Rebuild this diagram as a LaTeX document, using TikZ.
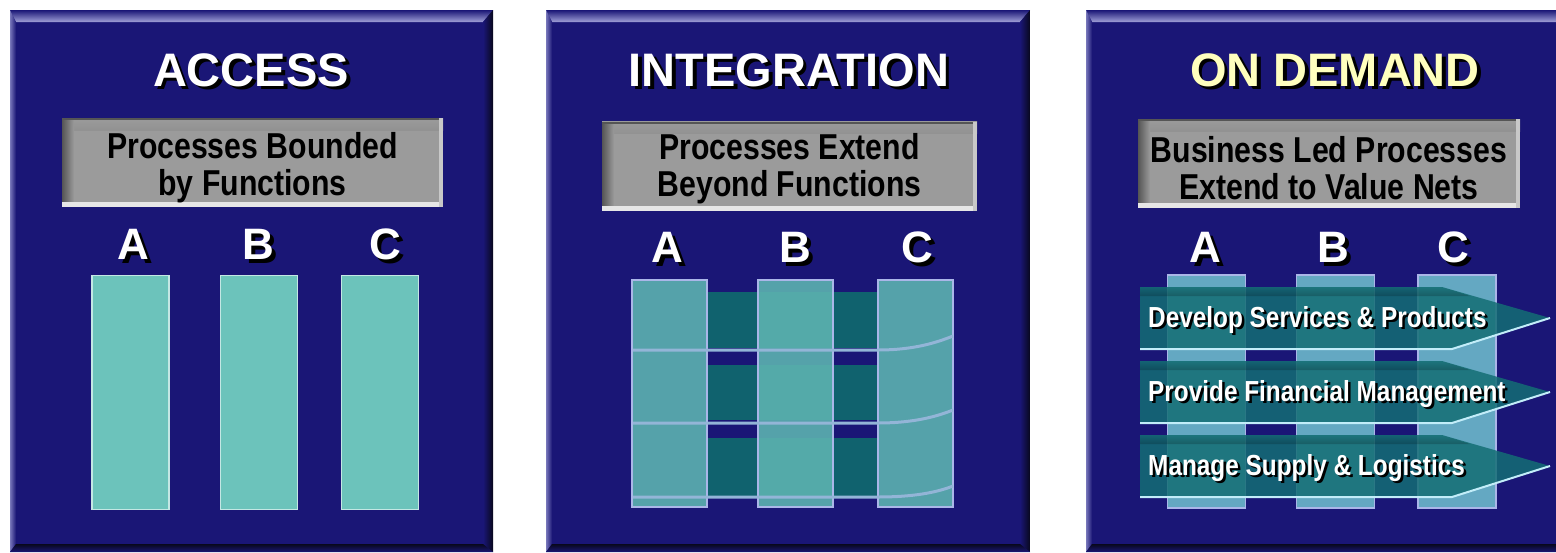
\documentclass[tikz,border=0pt]{standalone}
\usepackage{fontspec}
\setmainfont{Liberation Sans}
\newfontfamily\narrowfont[FakeStretch=0.84]{Liberation Sans}
\usetikzlibrary{positioning}

\definecolor{panelnavy}{RGB}{26,22,118}
\definecolor{bevellight}{RGB}{160,160,215}
\definecolor{beveldark}{RGB}{8,8,28}
\definecolor{boxgray}{RGB}{155,155,155}
\definecolor{barteal}{RGB}{108,195,187}
\definecolor{colteal}{RGB}{92,178,176}
\definecolor{bandteal}{RGB}{16,98,110}
\definecolor{demcolor}{RGB}{100,168,194}
\definecolor{arrowteal}{RGB}{20,110,116}
\definecolor{edgelav}{RGB}{170,182,232}
\definecolor{titleyellow}{RGB}{255,255,190}

\newcommand{\shadowed}[2][3pt]{\makebox[0pt][l]{\hspace{#1}\raisebox{-#1}{\color{black}#2}}#2}

% y runs downwards, so top/bottom colours of shadings are swapped
\tikzset{
  title/.style={font=\bfseries\fontsize{47}{50}\selectfont, text=white, inner sep=0pt, anchor=base},
  colletter/.style={font=\bfseries\fontsize{44}{46}\selectfont, text=white, inner sep=0pt, anchor=base},
  graybox/.style={fill=boxgray, inner sep=0pt, path picture={
      \shade[bottom color=black!45!boxgray, top color=boxgray] (path picture bounding box.north west) rectangle ([yshift=-12pt]path picture bounding box.north east);
      \shade[left color=black!45!boxgray, right color=boxgray] ([yshift=-2pt]path picture bounding box.north west) rectangle ([xshift=12pt,yshift=5pt]path picture bounding box.south west);
      \fill[black!45!boxgray] (path picture bounding box.north west) rectangle ([yshift=-2pt]path picture bounding box.north east);
      \fill[white!75!boxgray] (path picture bounding box.south west) rectangle ([yshift=5pt]path picture bounding box.south east);
      \fill[white!45!boxgray] (path picture bounding box.south east) rectangle ([xshift=-4pt]path picture bounding box.north east);}},
  boxtext/.style={font=\narrowfont\bfseries\fontsize{36}{37}\selectfont, align=center, inner sep=0pt},
  funcbar/.style={fill=barteal, draw=white!60!barteal, line width=1.5pt, minimum width=77pt, minimum height=234pt, inner sep=0pt},
  intcol/.style={fill=colteal, fill opacity=0.9, draw=edgelav, line width=1.5pt, minimum width=75pt, minimum height=227pt, inner sep=0pt},
  demcol/.style={fill=demcolor, draw=edgelav, line width=1.5pt, minimum width=78pt, minimum height=233pt, inner sep=0pt},
  divider/.style={draw=edgelav!70!colteal, line width=3pt},
  proctext/.style={font=\narrowfont\bfseries\fontsize{29}{30}\selectfont, text=white, inner sep=0pt, anchor=base west},
}

\begin{document}
\begin{tikzpicture}[x=1pt, y=-1pt]
\useasboundingbox (0,0) rectangle (1556,552);
\fill[white] (0,0) rectangle (1556,552);
\clip (0,0) rectangle (1556,552);

\foreach \xa/\xb in {10/493, 546/1030, 1086/1570} {
    \fill[panelnavy] (\xa,10) rectangle (\xb,552);
    \shade[bottom color=bevellight, top color=panelnavy] (\xa,10) -- (\xb,10) -- (\xb-10,22) -- (\xa+6,22) -- cycle;
    \shade[left color=bevellight!70!panelnavy, right color=panelnavy] (\xa,10) -- (\xa+6,22) -- (\xa+6,544) -- (\xa,552) -- cycle;
    \shade[left color=panelnavy, right color=beveldark] (\xb,10) -- (\xb,552) -- (\xb-10,544) -- (\xb-10,22) -- cycle;
    \shade[bottom color=panelnavy, top color=beveldark] (\xa,552) -- (\xb,552) -- (\xb-10,544) -- (\xa+6,544) -- cycle;
}

\node[title] (acc-title) at (251,86) {\shadowed[3.5pt]{ACCESS}};
\node[title] (int-title) at (789,86) {\shadowed[3.5pt]{INTEGRATION}};
\node[title, text=titleyellow] (dem-title) at (1335,86) {\shadowed[3.5pt]{ON DEMAND}};

\node[graybox, minimum width=381pt, minimum height=89pt] (acc-box) at (252.5,162.5) {};
\node[graybox, minimum width=375pt, minimum height=89pt] (int-box) at (789.5,166) {};
\node[graybox, minimum width=382pt, minimum height=89pt] (dem-box) at (1329,163.5) {};
\node[boxtext] (acc-text) at ([yshift=-5pt]acc-box.center) {Processes Bounded\\by Functions};
\node[boxtext] (int-text) at ([yshift=-3pt]int-box.center) {Processes Extend\\Beyond Functions};
\node[boxtext] (dem-text) at ([yshift=-5pt]dem-box.center) {Business Led Processes\\Extend to Value Nets};

\begin{scope}[every node/.style={colletter}]
    \node (acc-la) at (133,259) {\shadowed[4pt]{A}};
    \node (acc-lb) at (258,259) {\shadowed[4pt]{B}};
    \node (acc-lc) at (385,259) {\shadowed[4pt]{C}};
    \node (int-la) at (667,262) {\shadowed[4pt]{A}};
    \node (int-lb) at (795,262) {\shadowed[4pt]{B}};
    \node (int-lc) at (917,262) {\shadowed[4pt]{C}};
    \node (dem-la) at (1205,262) {\shadowed[4pt]{A}};
    \node (dem-lb) at (1333,262) {\shadowed[4pt]{B}};
    \node (dem-lc) at (1453,262) {\shadowed[4pt]{C}};
\end{scope}

\node[funcbar] (acc-a) at (130.5,392.5) {};
\node[funcbar] (acc-b) at (259,392.5) {};
\node[funcbar] (acc-c) at (380,392.5) {};

\foreach \ya/\yb in {292/348, 365/420, 438/497}
    \fill[bandteal] (707,\ya) rectangle (878,\yb);
\node[intcol] (int-a) at (669.5,393.5) {};
\node[intcol] (int-b) at (795.5,393.5) {};
\node[intcol] (int-c) at (915.5,393.5) {};
\foreach \yd/\ye in {350/336, 423/410, 497/486}
    \draw[divider] (633,\yd) -- (878,\yd) .. controls (915,\yd) and (938,\ye+6) .. (953,\ye);

\node[demcol] (dem-a) at (1206.5,391.5) {};
\node[demcol] (dem-b) at (1335.5,391.5) {};
\node[demcol] (dem-c) at (1457,391.5) {};
\foreach \y/\txt/\nm in {287/Develop Services \& Products/dev, 361/Provide Financial Management/fin, 435/Manage Supply \& Logistics/sup} {
    \fill[arrowteal, fill opacity=0.85] (1140,\y) -- (1442,\y) -- (1550,\y+31) -- (1452,\y+62) -- (1140,\y+62) -- cycle;
    \shade[bottom color=black, top color=arrowteal, opacity=0.2] (1140,\y) -- (1442,\y) -- (1470,\y+9) -- (1140,\y+9) -- cycle;
    \draw[edgelav!60!cyan!40!white, line width=2pt] (1140,\y+62) -- (1452,\y+62) -- (1550,\y+31);
    \node[proctext] (\nm) at (1148,\y+40) {\shadowed[2.5pt]{\txt}};
}
\end{tikzpicture}
\end{document}
